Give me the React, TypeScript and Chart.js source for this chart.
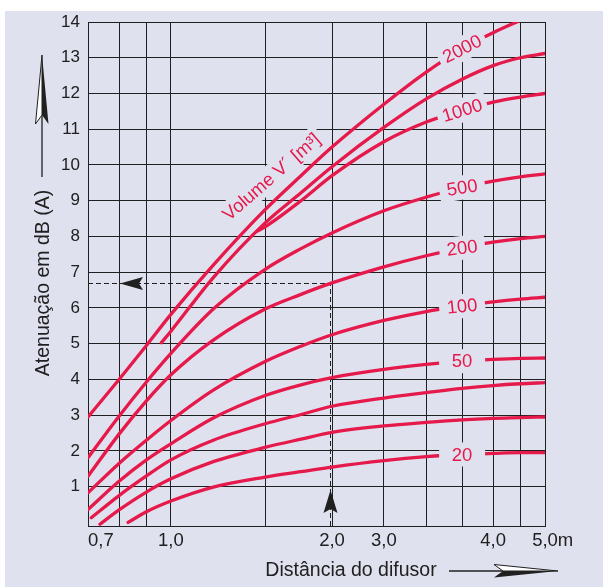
import React, { useEffect, useRef } from "react";
import { Chart, registerables } from "chart.js";

Chart.register(...registerables);

// ---------------- data ----------------
// distance grid (m) shared by every curve
const distances = [0.7, 0.8, 0.9, 1.0, 1.2, 1.5, 1.75, 2.0, 2.5, 3.0, 3.5, 4.0, 4.5, 5.0];

// attenuation in dB(A), one array per curve (room volume V in m³)
const att2000 = [2.95, 4.0, 4.95, 5.82, 7.2, 8.75, 9.7, 10.5, 11.7, 12.6, 13.25, 13.7, 14.05, null];
const attUpper = [null, null, null, 5.35, 6.85, 8.38, 9.22, 9.95, 11.05, 11.85, 12.4, 12.78, 13.0, 13.12];
const att1000 = [null, null, null, null, null, 8.27, 9.0, 9.7, 10.65, 11.2, 11.53, 11.76, 11.9, 12.0];
const att500 = [1.81, 2.97, 3.93, 4.73, 5.97, 7.08, 7.66, 8.1, 8.72, 9.1, 9.37, 9.55, 9.67, 9.75];
const att200 = [1.29, 2.47, 3.4, 4.13, 5.1, 5.97, 6.38, 6.7, 7.15, 7.46, 7.68, 7.84, 7.94, 8.0];
const att100 = [0.83, 1.65, 2.3, 2.85, 3.7, 4.5, 4.93, 5.25, 5.65, 5.9, 6.05, 6.17, 6.25, 6.3];
const att50 = [0.36, 1.15, 1.75, 2.2, 2.92, 3.55, 3.85, 4.05, 4.28, 4.42, 4.51, 4.56, 4.59, 4.6];
const attLowerA = [null, 0.75, 1.3, 1.75, 2.3, 2.76, 3.02, 3.25, 3.48, 3.63, 3.75, 3.83, 3.88, 3.91];
const attLowerB = [null, 0.35, 0.85, 1.22, 1.7, 2.1, 2.33, 2.52, 2.7, 2.8, 2.87, 2.91, 2.93, 2.95];
const att20 = [null, null, 0.3, 0.6, 0.99, 1.27, 1.42, 1.55, 1.73, 1.84, 1.9, 1.93, 1.95, 1.95];

const curves = [att2000, attUpper, att1000, att500, att200, att100, att50, attLowerA, attLowerB, att20];
const curveLabels = ["2000", "", "1000", "500", "200", "100", "50", "", "", "20"];
// curves that begin between grid distances
const curveStartDist = [null, 0.96, 1.45, null, null, null, null, 0.71, 0.737, 0.832];
const curveStartAtt = [null, 5.03, 8.15, null, null, null, null, 0.13, -0.05, 0.0];

const yTickValues = [1, 2, 3, 4, 5, 6, 7, 8, 9, 10, 11, 12, 13, 14];
const xGridValues = [0.7, 0.8, 0.9, 1.0, 1.5, 2.0, 2.5, 3.0, 3.5, 4.0, 4.5, 5.0];
const xTickValues = [0.7, 1.0, 2.0, 2.5, 4.0, 5.0];
const xTickLabels = ["0,7", "1,0", "2,0", "3,0", "4,0", "5,0m"];

const refDistance = 1.98;
const refAttenuation = 6.7;
const labelDistance = 3.5;

const yTitle = "Atenuação em dB (A)";
const xTitle = "Distância do difusor";
const volumeTitle = "Volume V´ [m³]";

// ---------------- style ----------------
const LAVENDER = "#dfe1ef";
const RED = "#e6194b";
const INK = "#202020";
const FONT = "'Liberation Sans', Arial, Helvetica, sans-serif";
const labelAngles = [-27, 0, -17, -9, -7, -6, 0, 0, 0, 0];
const volumeLabelAt = [1.54, 9.67];
const volumeAngle = -41;

const decor = {
  id: "decor",
  beforeDraw(chart: any) {
    const { ctx, width, height } = chart;
    ctx.save();
    ctx.fillStyle = "#ffffff";
    ctx.fillRect(0, 0, width, height);
    ctx.fillStyle = LAVENDER;
    ctx.fillRect(5, 11, width - 5, height - 11);
    ctx.restore();
  },
  beforeDatasetsDraw(chart: any) {
    const { ctx, chartArea: a, scales } = chart;
    const x = scales.x, y = scales.y;
    const px = Math.round(x.getPixelForValue(refDistance)) + 0.5;
    const py = Math.round(y.getPixelForValue(refAttenuation)) + 0.5;
    ctx.save();
    ctx.strokeStyle = INK;
    ctx.lineWidth = 1;
    ctx.setLineDash([5, 3]);
    ctx.beginPath();
    ctx.moveTo(a.left, py);
    ctx.lineTo(px, py);
    ctx.lineTo(px, a.bottom);
    ctx.stroke();
    ctx.setLineDash([]);
    ctx.fillStyle = INK;
    const tx = a.left + 32;
    ctx.beginPath();
    ctx.moveTo(tx, py);
    ctx.lineTo(tx + 23, py - 6.5);
    ctx.lineTo(tx + 19, py);
    ctx.lineTo(tx + 23, py + 6.5);
    ctx.closePath();
    ctx.fill();
    const ty = a.bottom - 36;
    ctx.beginPath();
    ctx.moveTo(px, ty);
    ctx.lineTo(px - 7, ty + 23);
    ctx.lineTo(px, ty + 19);
    ctx.lineTo(px + 7, ty + 23);
    ctx.closePath();
    ctx.fill();

    const lx = x.getPixelForValue(volumeLabelAt[0]);
    const ly = y.getPixelForValue(volumeLabelAt[1]);
    ctx.translate(lx, ly);
    ctx.rotate((volumeAngle * Math.PI) / 180);
    ctx.font = `18.5px ${FONT}`;
    const w = ctx.measureText(volumeTitle).width;
    ctx.fillStyle = LAVENDER;
    ctx.fillRect(-w / 2 - 4, -12, w + 8, 24);
    ctx.fillStyle = RED;
    ctx.textAlign = "center";
    ctx.textBaseline = "middle";
    ctx.fillText(volumeTitle, 0, 1);
    ctx.restore();
  },
  afterDatasetsDraw(chart: any) {
    const { ctx, scales } = chart;
    const x = scales.x, y = scales.y;
    const li = distances.indexOf(labelDistance);
    ctx.save();
    ctx.font = `18.5px ${FONT}`;
    curveLabels.forEach((lab, i) => {
      if (!lab) return;
      const v = curves[i][li] as number;
      const px = x.getPixelForValue(labelDistance);
      const py = y.getPixelForValue(v);
      ctx.save();
      ctx.translate(px, py);
      ctx.rotate((labelAngles[i] * Math.PI) / 180);
      const w = Math.max(ctx.measureText(lab).width + 10, 46);
      ctx.fillStyle = LAVENDER;
      ctx.fillRect(-w / 2, -12, w, 24);
      ctx.fillStyle = RED;
      ctx.textAlign = "center";
      ctx.textBaseline = "middle";
      ctx.fillText(lab, 0, 1);
      ctx.restore();
    });
    ctx.restore();
  },
  afterDraw(chart: any) {
    const { ctx, chartArea: a, scales } = chart;
    const x = scales.x;
    ctx.save();
    ctx.fillStyle = INK;
    ctx.font = `18.5px ${FONT}`;
    ctx.textBaseline = "middle";
    ctx.textAlign = "left";
    xTickValues.forEach((v, i) => {
      const px = x.getPixelForValue(v);
      const lab = xTickLabels[i];
      let left: number;
      if (i === 0) left = px;
      else left = px - ctx.measureText(lab.replace(/m$/, "")).width / 2;
      ctx.fillText(lab, left, a.bottom + 15);
    });

    ctx.font = `19.5px ${FONT}`;
    ctx.textAlign = "center";
    ctx.fillText(xTitle, 351, 571);
    ctx.save();
    ctx.translate(44, 283);
    ctx.rotate(-Math.PI / 2);
    ctx.fillText(yTitle, 0, 0);
    ctx.restore();

    // y title arrow (pointing up)
    const ax = 42, tipY = 55, baseY = 124, notchY = 115, hw = 6.5;
    ctx.strokeStyle = INK;
    ctx.lineWidth = 1.3;
    ctx.beginPath();
    ctx.moveTo(ax, 177);
    ctx.lineTo(ax, notchY);
    ctx.stroke();
    ctx.lineWidth = 1;
    ctx.beginPath();
    ctx.moveTo(ax, tipY);
    ctx.lineTo(ax - hw, baseY);
    ctx.lineTo(ax, notchY);
    ctx.closePath();
    ctx.fillStyle = "#ffffff";
    ctx.fill();
    ctx.stroke();
    ctx.beginPath();
    ctx.moveTo(ax, tipY);
    ctx.lineTo(ax, notchY);
    ctx.lineTo(ax + hw, baseY);
    ctx.closePath();
    ctx.fillStyle = INK;
    ctx.fill();

    // x title arrow (pointing right)
    const ay = 571, tipX = 558, baseX = 494, notchX = 503, hh = 6.5;
    ctx.lineWidth = 1.3;
    ctx.beginPath();
    ctx.moveTo(449, ay);
    ctx.lineTo(notchX, ay);
    ctx.stroke();
    ctx.lineWidth = 1;
    ctx.beginPath();
    ctx.moveTo(tipX, ay);
    ctx.lineTo(baseX, ay - hh);
    ctx.lineTo(notchX, ay);
    ctx.closePath();
    ctx.fillStyle = "#ffffff";
    ctx.fill();
    ctx.stroke();
    ctx.beginPath();
    ctx.moveTo(tipX, ay);
    ctx.lineTo(notchX, ay);
    ctx.lineTo(baseX, ay + hh);
    ctx.closePath();
    ctx.fillStyle = INK;
    ctx.fill();
    ctx.restore();
  },
};

function buildDatasets() {
  return curves.map((vals, i) => {
    const pts: { x: number; y: number }[] = [];
    const sd = curveStartDist[i];
    if (sd != null) pts.push({ x: sd, y: curveStartAtt[i] as number });
    distances.forEach((d, j) => {
      const v = vals[j];
      if (v != null && (sd == null || d > sd)) pts.push({ x: d, y: v });
    });
    return {
      label: curveLabels[i] || `curve ${i + 1}`,
      data: pts,
      borderColor: RED,
      backgroundColor: RED,
      borderWidth: 3.3,
      pointRadius: 0,
      fill: false,
      cubicInterpolationMode: "monotone" as const,
      borderCapStyle: "round" as const,
      borderJoinStyle: "round" as const,
    };
  });
}

export default function App() {
  const ref = useRef<HTMLCanvasElement | null>(null);
  useEffect(() => {
    if (!ref.current) return;
    const chart = new Chart(ref.current, {
      type: "line",
      data: { datasets: buildDatasets() as any },
      options: {
        animation: false,
        responsive: false,
        devicePixelRatio: 1,
        events: [],
        layout: { padding: { left: 0, right: 58, top: 22, bottom: 0 } },
        plugins: {
          legend: { display: false },
          tooltip: { enabled: false },
          title: { display: false },
        },
        scales: {
          x: {
            type: "logarithmic",
            min: 0.7,
            max: 5,
            afterBuildTicks: (s: any) => {
              s.ticks = xGridValues.map((v) => ({ value: v }));
            },
            afterFit: (s: any) => {
              s.height = 61;
            },
            ticks: { display: false },
            grid: { color: INK, lineWidth: 1, drawTicks: false },
            border: { display: true, color: INK, width: 1 },
          },
          y: {
            type: "linear",
            min: -0.1,
            max: 14,
            afterBuildTicks: (s: any) => {
              s.ticks = yTickValues.map((v) => ({ value: v }));
            },
            afterFit: (s: any) => {
              s.width = 88;
            },
            ticks: {
              color: INK,
              font: { family: FONT, size: 17 },
              padding: 8,
              callback: (v: any) => String(v),
            },
            grid: { color: INK, lineWidth: 1, drawTicks: false },
            border: { display: true, color: INK, width: 1 },
          },
        },
      } as any,
      plugins: [decor],
    });
    return () => chart.destroy();
  }, []);
  return (
    <div style={{ position: "absolute", left: 0, top: 0, width: 603, height: 587 }}>
      <canvas ref={ref} width={603} height={587} style={{ display: "block" }} />
    </div>
  );
}
